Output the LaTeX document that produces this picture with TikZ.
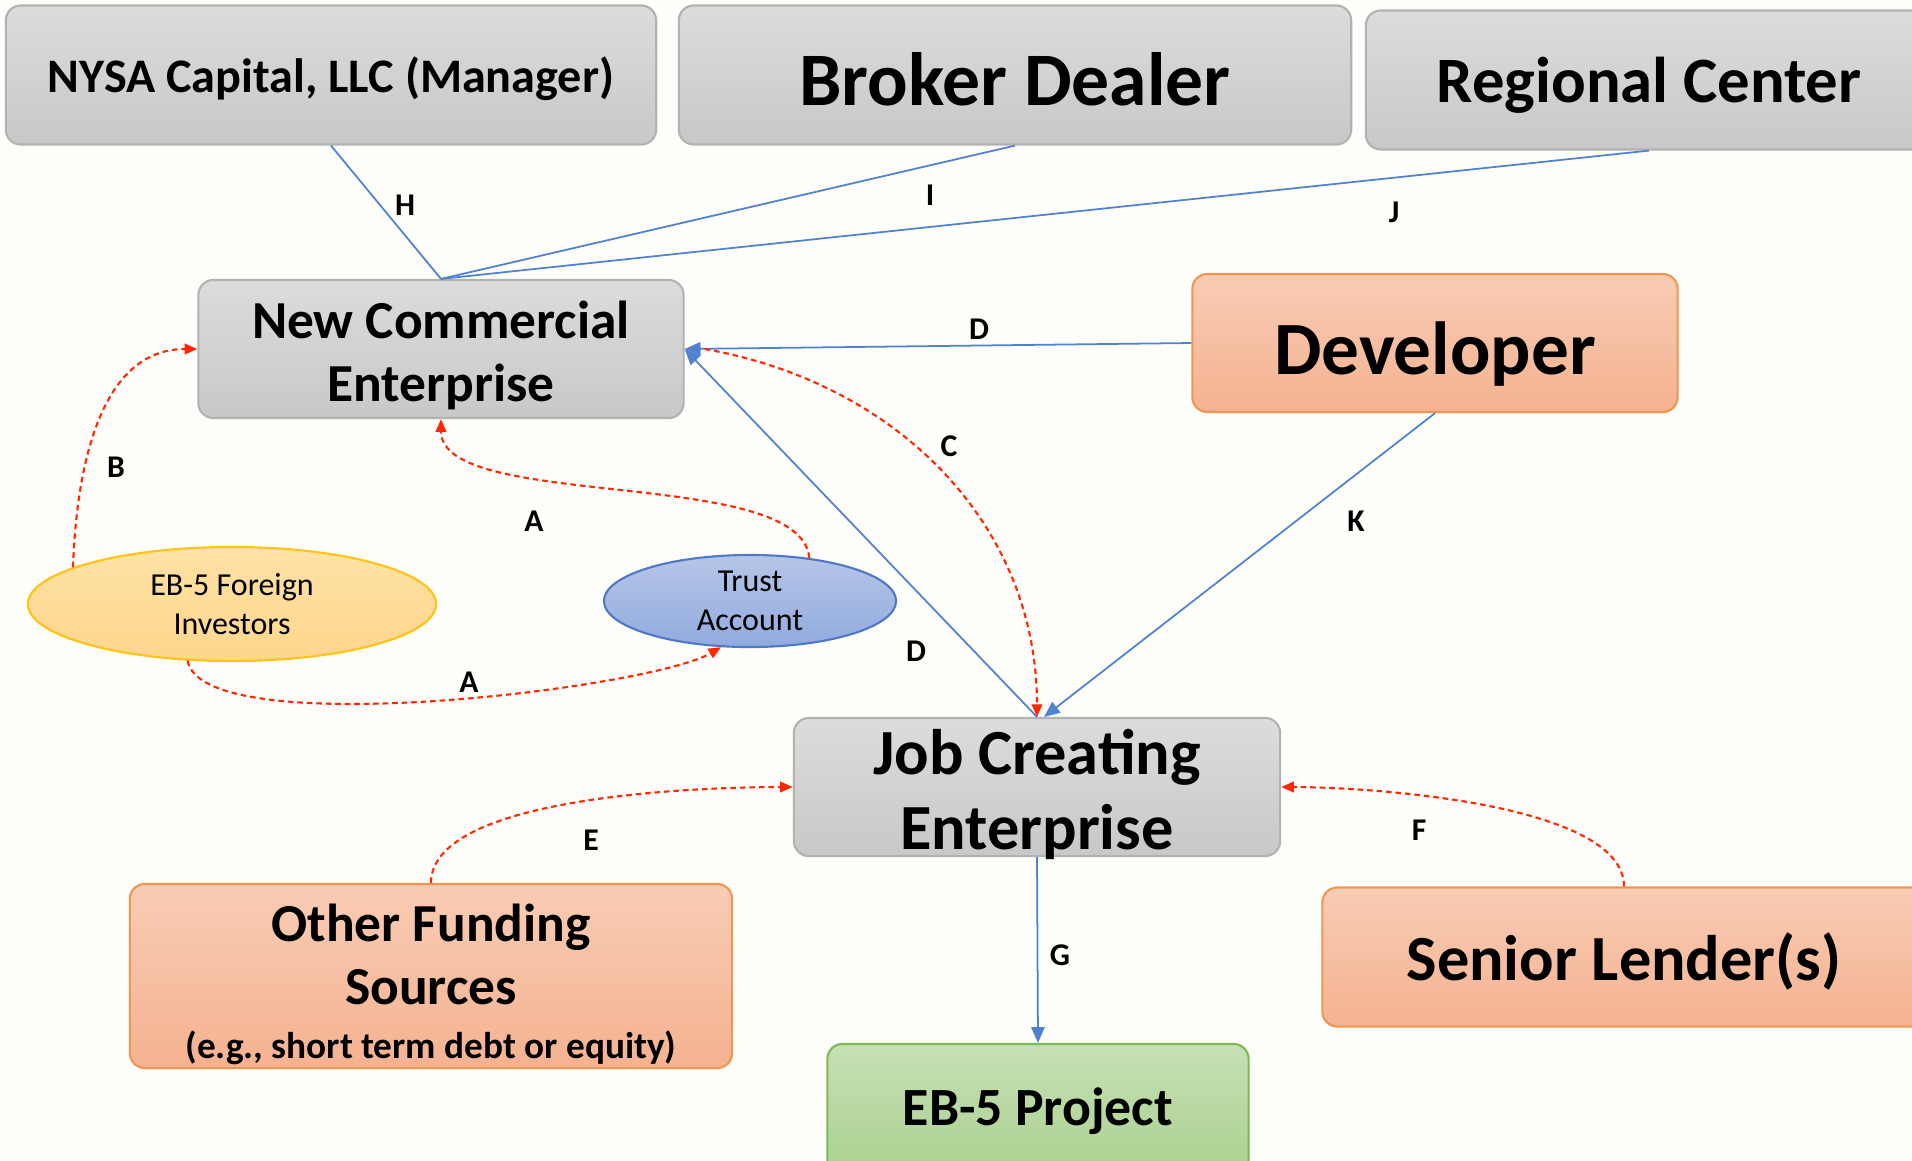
\documentclass[tikz,border=0pt]{standalone}
\usepackage{fontspec}
\setmainfont{Carlito}
\usepackage{tikz}
\usetikzlibrary{shapes.geometric, arrows.meta, positioning}
\definecolor{paper}{RGB}{253,253,250}
\definecolor{graytop}{RGB}{220,220,220}
\definecolor{graybot}{RGB}{200,200,200}
\definecolor{grayedge}{RGB}{178,178,178}
\definecolor{orangetop}{RGB}{248,204,180}
\definecolor{orangebot}{RGB}{245,178,145}
\definecolor{orangeedge}{RGB}{240,150,80}
\definecolor{greentop}{RGB}{198,224,182}
\definecolor{greenbot}{RGB}{170,209,142}
\definecolor{greenedge}{RGB}{125,185,85}
\definecolor{goldtop}{RGB}{255,226,165}
\definecolor{goldbot}{RGB}{253,214,140}
\definecolor{goldedge}{RGB}{255,195,20}
\definecolor{bluetop}{RGB}{182,198,232}
\definecolor{bluebot}{RGB}{145,170,222}
\definecolor{blueedge}{RGB}{80,120,200}
\definecolor{flowblue}{RGB}{80,130,210}
\definecolor{fundred}{RGB}{255,40,0}
\tikzstyle{entity} = [rectangle, rounded corners=0.15cm, text centered, align=center, inner ysep=0pt, text depth=0pt, draw=grayedge, top color=graytop, bottom color=graybot, line width=0.6pt, font=\bfseries]
\tikzstyle{funder} = [entity, draw=orangeedge, top color=orangetop, bottom color=orangebot]
\tikzstyle{project} = [entity, draw=greenedge, top color=greentop, bottom color=greenbot]
\tikzstyle{pool} = [ellipse, inner sep=0pt, text centered, align=center, line width=0.6pt, font=\fontsize{9.1}{11}\selectfont]
\tikzstyle{link} = [line width=0.5pt, draw=flowblue]
\tikzstyle{arrow} = [link, -{Triangle[length=4.5pt,width=3.8pt]}]
\tikzstyle{money} = [line width=0.6pt, draw=fundred, dash pattern=on 1.6pt off 1.1pt, -{Triangle[length=3.6pt,width=3pt]}]
\tikzstyle{tag} = [font=\bfseries\fontsize{9}{10}\selectfont]

\begin{document}
\begin{tikzpicture}[x=0.01cm, y=-0.01cm]
    \useasboundingbox[fill=paper] (0,0) rectangle (1912,1160);

    % Top row
    \node[entity, minimum width=6.5cm, minimum height=1.39cm, font=\bfseries\fontsize{13.7}{16}\selectfont] (nysa) at (331,75) {NYSA Capital, LLC (Manager)};
    \node[entity, minimum width=6.72cm, minimum height=1.39cm, text height=17.5pt, font=\bfseries\fontsize{21.5}{25}\selectfont] (broker) at (1015,75) {Broker Dealer};
    \node[entity, minimum width=5.66cm, minimum height=1.39cm, font=\bfseries\fontsize{18.4}{22}\selectfont] (regional) at (1649,80) {Regional Center};

    % Enterprises
    \node[entity, minimum width=4.85cm, minimum height=1.38cm, text height=30pt, font=\bfseries\fontsize{15.2}{18}\selectfont] (nce) at (441,349) {New Commercial\\Enterprise};
    \node[funder, minimum width=4.85cm, minimum height=1.38cm, text height=17.8pt, font=\bfseries\fontsize{21.4}{25}\selectfont] (developer) at (1435,343) {Developer};
    \node[entity, minimum width=4.86cm, minimum height=1.38cm, text height=35.5pt, font=\bfseries\fontsize{18.3}{21.3}\selectfont] (jce) at (1037,787) {Job Creating\\Enterprise};

    % Investor funds
    \node[pool, draw=goldedge, top color=goldtop, bottom color=goldbot, minimum width=4.08cm, minimum height=1.14cm] (investors) at (232,604) {EB-5 Foreign\\Investors};
    \node[pool, draw=blueedge, top color=bluetop, bottom color=bluebot, minimum width=2.92cm, minimum height=0.92cm] (trust) at (750,601) {Trust\\Account};

    % Other capital and project
    \node[funder, minimum width=6.02cm, minimum height=1.84cm, text height=47pt, font=\bfseries\fontsize{15.2}{18}\selectfont] (other) at (431,976) {Other Funding\\Sources\\[-2.7pt]{\fontsize{10.6}{13}\selectfont (e.g., short term debt or equity)}};
    \node[funder, minimum width=6.03cm, minimum height=1.39cm, font=\bfseries\fontsize{18.3}{22}\selectfont] (lender) at (1624,957) {Senior Lender(s)};
    \node[project, minimum width=4.21cm, minimum height=1.32cm, text depth=2pt, font=\bfseries\fontsize{15.3}{18}\selectfont] (project) at (1038,1110) {EB-5 Project};

    % Sponsor links
    \draw[link] (nysa.south) -- (nce.north);
    \draw[link] (broker.south) -- (nce.north);
    \draw[link] (regional.south) -- (nce.north);

    % Blue flows
    \draw[arrow] (developer.west) -- (nce.east);
    \draw[arrow] (jce.north) -- (nce.east);
    \draw[arrow] (developer.south) -- ([xshift=0.07cm]jce.north);
    \draw[arrow] (jce.south) -- (project.north);

    % Funding flows
    \draw[money] (investors.167) to[out=88, in=180] (nce.west);
    \draw[money] (investors.232) to[out=-80, in=-150, looseness=0.4] (trust.238);
    \draw[money] (trust.36) to[out=95, in=-90, looseness=0.6] (nce.south);
    \draw[money] ([xshift=0.2cm]nce.east) to[out=-10, in=90] (jce.north);
    \draw[money] (other.north) to[out=90, in=180, looseness=0.6] (jce.west);
    \draw[money] (lender.north) to[out=90, in=0, looseness=0.6] (jce.east);

    % Labels
    \node[tag] (tagH) at (405,205) {H};
    \node[tag] (tagI) at (930,195) {I};
    \node[tag] (tagJ) at (1394,212) {J};
    \node[tag] (tagD) at (979,329) {D};
    \node[tag] (tagC) at (949,446) {C};
    \node[tag] (tagK) at (1356,521) {K};
    \node[tag] (tagB) at (116,467) {B};
    \node[tag] (tagA) at (534,521) {A};
    \node[tag] (tagA2) at (469,682) {A};
    \node[tag] (tagD2) at (916,651) {D};
    \node[tag] (tagE) at (591,840) {E};
    \node[tag] (tagF) at (1419,830) {F};
    \node[tag] (tagG) at (1060,955) {G};
\end{tikzpicture}
\end{document}
